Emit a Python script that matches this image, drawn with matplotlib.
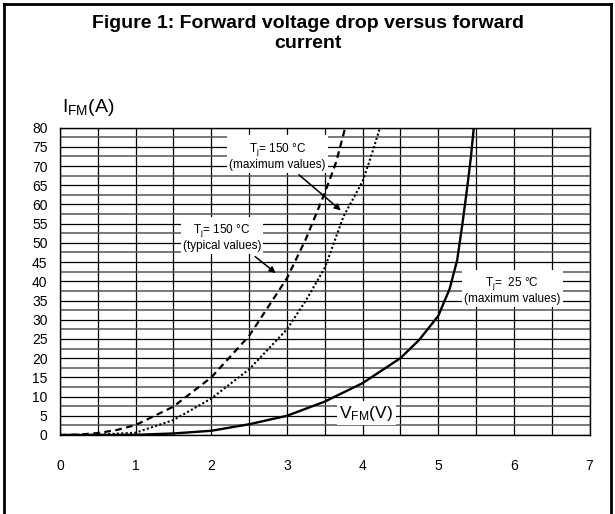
import numpy as np
import matplotlib
matplotlib.use("Agg")
import matplotlib.pyplot as plt
from matplotlib.lines import Line2D

plt.rcParams['font.family'] = ['Liberation Sans', 'DejaVu Sans']
plt.rcParams['mathtext.fontset'] = 'custom'
plt.rcParams['mathtext.rm'] = 'Liberation Sans'
plt.rcParams['mathtext.it'] = 'Liberation Sans'

# Tj = 25 C (maximum values)
v_25max = [0, 0.5, 1.0, 1.5, 2.0, 2.5, 3.0, 3.5, 4.0, 4.5, 4.75, 5.0, 5.15, 5.25, 5.32, 5.38, 5.43, 5.47]
i_25max = [0, 0, 0.05, 0.4, 1.1, 2.8, 5.0, 8.7, 13.5, 20.0, 24.8, 31, 38, 45.5, 55, 64, 72, 80]

# Tj = 150 C (typical values)
v_150typ = [0, 0.25, 0.5, 0.75, 1.0, 1.5, 2.0, 2.5, 3.0, 3.25, 3.5, 3.65, 3.77]
i_150typ = [0, 0.1, 0.5, 1.3, 2.6, 7.4, 15, 25.8, 40.8, 51, 63, 71, 80]

# Tj = 150 C (maximum values)
v_150max = [0, 0.5, 1.0, 1.5, 2.0, 2.5, 3.0, 3.25, 3.5, 3.75, 4.0, 4.12, 4.23]
i_150max = [0, 0.1, 0.6, 3.9, 9.5, 17.1, 27.5, 35, 43.5, 57, 66, 73, 80]

x_ticks = [0, 1, 2, 3, 4, 5, 6, 7]
y_ticks = list(range(0, 81, 5))

fig = plt.figure(figsize=(6.15, 5.14), dpi=100)
ax = fig.add_axes([0.0976, 0.1537, 0.861, 0.598])

# grid
for gx in np.arange(0, 7.01, 0.5):
    ax.axvline(gx, color='black', lw=0.9, zorder=1)
for gy in np.arange(0, 80.01, 2.5):
    if gy % 5 == 0:
        ax.axhline(gy, color='black', lw=0.9, zorder=1)
    else:
        ax.axhline(gy, color='#555555', lw=1.1, zorder=1)

ax.plot(v_25max, i_25max, color='black', lw=1.7, zorder=3)
ax.plot(v_150typ, i_150typ, color='black', lw=1.6, dashes=(3, 2), zorder=3)
ax.plot(v_150max, i_150max, color='black', lw=1.5, linestyle=(0, (1, 1.1)), zorder=3)

ax.set_xlim(0, 7)
ax.set_ylim(0, 80)
ax.set_xticks(x_ticks)
ax.set_yticks(y_ticks)
ax.tick_params(length=0, labelsize=10)
ax.tick_params(axis='x', pad=17)
ax.tick_params(axis='y', pad=9)
for s in ax.spines.values():
    s.set_linewidth(1.0)

box = dict(facecolor='white', edgecolor='none', pad=1.5)
ax.text(2.87, 72.7, 'T$_{\\rm j}$= 150 °C\n(maximum values)', ha='center', va='center',
        fontsize=8.5, bbox=box, zorder=4, linespacing=1.1)
ax.text(2.14, 51.6, 'T$_{\\rm j}$= 150 °C\n(typical values)', ha='center', va='center',
        fontsize=8.5, bbox=box, zorder=4, linespacing=1.1)
ax.text(5.98, 37.8, 'T$_{\\rm j}$=  25 °C\n(maximum values)', ha='center', va='center',
        fontsize=8.5, bbox=box, zorder=4, linespacing=1.1)

arrow = dict(arrowstyle='-|>', color='black', lw=1.1, mutation_scale=9)
ax.annotate('', xy=(3.74, 58), xytext=(3.13, 68.2), arrowprops=arrow, zorder=5)
ax.annotate('', xy=(2.88, 41.7), xytext=(2.55, 46.9), arrowprops=arrow, zorder=5)

ax.text(4.05, 5.7, 'V$_{\\rm FM}$(V)', ha='center', va='center', fontsize=12.5,
        bbox=dict(facecolor='white', edgecolor='none', pad=2), zorder=4)

fig.text(62 / 615, 1 - 108 / 514, 'I$_{\\rm FM}$(A)', ha='left', va='center', fontsize=14)

fig.text(0.5, 1 - 23 / 514, 'Figure 1: Forward voltage drop versus forward',
         ha='center', va='center', fontsize=14, fontweight='bold')
fig.text(0.5, 1 - 44 / 514, 'current',
         ha='center', va='center', fontsize=14, fontweight='bold')

# outer frame (top, left, right)
fig.add_artist(Line2D([4 / 615, 4 / 615], [0, 1 - 4 / 514], transform=fig.transFigure, color='black', lw=2))
fig.add_artist(Line2D([611 / 615, 611 / 615], [0, 1 - 4 / 514], transform=fig.transFigure, color='black', lw=2))
fig.add_artist(Line2D([4 / 615, 611 / 615], [1 - 4 / 514, 1 - 4 / 514], transform=fig.transFigure, color='black', lw=2))

fig.savefig('out.png', dpi=100)
